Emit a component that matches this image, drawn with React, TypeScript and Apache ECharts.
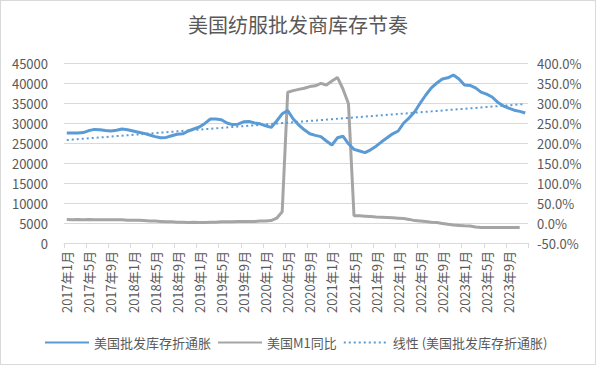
import React, { useEffect, useRef } from "react";
import * as echarts from "echarts";

const TITLE = "美国纺服批发商库存节奏";
const SERIES_NAMES = ["美国批发库存折通胀", "美国M1同比", "线性 (美国批发库存折通胀)"];

const YEARS = [2017, 2018, 2019, 2020, 2021, 2022, 2023];
const MONTHS = [1, 2, 3, 4, 5, 6, 7, 8, 9, 10, 11, 12];
const categories: string[] = [];
YEARS.forEach((y) => MONTHS.forEach((m) => categories.push(`${y}年${m}月`)));

// 美国批发库存折通胀 (left axis)
const inventory = [
  27500, 27500, 27500, 27600, 28100, 28400, 28300, 28100, 28000, 28200, 28500, 28300,
  28000, 27700, 27400, 27000, 26600, 26300, 26400, 26800, 27200, 27300, 28000, 28500,
  29000, 29900, 31000, 31000, 30800, 30000, 29600, 29700, 30300, 30400, 30000, 29800,
  29300, 28900, 30500, 32300, 33100, 31000, 29500, 28300, 27300, 26900, 26600, 25500,
  24500, 26300, 26700, 24800, 23400, 23000, 22600, 23300, 24200, 25300, 26300, 27300,
  28000, 30000, 31300, 32800, 35000, 37000, 38800, 40000, 41000, 41300, 42000, 41000,
  39500, 39400, 38800, 37700, 37200, 36500, 35200, 34300, 33700, 33200, 32900, 32500,
];

// 美国M1同比 (%) (right axis)
const m1Yoy: (number | null)[] = [
  9, 8, 9, 8, 9, 8, 8, 8, 8, 8, 8, 7,
  7, 7, 6, 5, 5, 4, 3, 3, 2, 2, 1, 2,
  1, 1, 2, 2, 3, 3, 3, 4, 4, 4, 4, 5,
  5, 6, 12, 28, 327, 331, 334, 337, 341, 343, 349, 345,
  355, 364, 335, 298, 18, 18, 17, 16, 15, 14.5, 14, 13,
  12, 11, 9, 6, 5, 3.5, 2, 1, -1, -3, -5, -6,
  -7, -7.5, -10, -11, -11, -11, -11, -11, -11, -11, -11, null,
];

const LEFT_MIN = 0, LEFT_MAX = 45000, LEFT_STEP = 5000;
const RIGHT_MIN = -50, RIGHT_MAX = 400, RIGHT_STEP = 50;

function linearTrend(vals: number[]): number[] {
  const n = vals.length;
  let sx = 0, sy = 0, sxx = 0, sxy = 0;
  vals.forEach((v, i) => {
    const x = i + 1;
    sx += x; sy += v; sxx += x * x; sxy += x * v;
  });
  const b = (n * sxy - sx * sy) / (n * sxx - sx * sx);
  const a = (sy - b * sx) / n;
  return vals.map((_, i) => +(a + b * (i + 1)).toFixed(1));
}

const FONT = "'Noto Sans CJK SC', 'Noto Sans', sans-serif";
const TXT = "#595959";

export default function App() {
  const ref = useRef<HTMLDivElement>(null);
  useEffect(() => {
    document.body.style.margin = "0";
    const chart = echarts.init(ref.current!, undefined, { renderer: "svg" });
    const trend = linearTrend(inventory);
    chart.setOption({
      animation: false,
      backgroundColor: "#ffffff",
      textStyle: { fontFamily: FONT, color: TXT },
      title: {
        text: TITLE,
        left: "center",
        top: 8,
        textStyle: { fontFamily: FONT, fontSize: 20, fontWeight: "normal", color: TXT },
      },
      grid: { left: 63, right: 67, top: 62, bottom: 121, containLabel: false },
      legend: {
        left: 38,
        top: 330,
        itemWidth: 44,
        itemHeight: 14,
        itemGap: 6,
        itemStyle: { opacity: 0 },
        textStyle: { fontFamily: FONT, fontSize: 13, color: TXT },
        data: SERIES_NAMES,
      },
      xAxis: {
        type: "category",
        data: categories,
        boundaryGap: true,
        axisLine: { lineStyle: { color: "#d9d9d9", width: 1 } },
        axisTick: { show: true, interval: 3, length: 5, lineStyle: { color: "#d9d9d9" } },
        axisLabel: {
          interval: 3,
          rotate: 90,
          fontFamily: FONT,
          fontSize: 13,
          color: TXT,
          margin: 8,
        },
      },
      yAxis: [
        {
          type: "value",
          min: LEFT_MIN,
          max: LEFT_MAX,
          interval: LEFT_STEP,
          axisLine: { show: false },
          axisTick: { show: false },
          splitLine: { lineStyle: { color: "#d9d9d9", width: 1 } },
          axisLabel: {
            fontFamily: FONT,
            fontSize: 13,
            color: TXT,
            margin: 16,
            formatter: (v: number) => String(v),
          },
        },
        {
          type: "value",
          min: RIGHT_MIN,
          max: RIGHT_MAX,
          interval: RIGHT_STEP,
          axisLine: { show: false },
          axisTick: { show: false },
          splitLine: { show: false },
          axisLabel: {
            fontFamily: FONT,
            fontSize: 13,
            color: TXT,
            margin: 9,
            formatter: (v: number) => v.toFixed(1) + "%",
          },
        },
      ],
      series: [
        {
          name: SERIES_NAMES[0],
          type: "line",
          yAxisIndex: 0,
          data: inventory,
          symbol: "none",
          lineStyle: { color: "#5B9BD5", width: 3 },
          itemStyle: { color: "#5B9BD5" },
          z: 3,
        },
        {
          name: SERIES_NAMES[1],
          type: "line",
          yAxisIndex: 1,
          data: m1Yoy,
          symbol: "none",
          lineStyle: { color: "#A5A5A5", width: 3 },
          itemStyle: { color: "#A5A5A5" },
          z: 2,
        },
        {
          name: SERIES_NAMES[2],
          type: "line",
          yAxisIndex: 0,
          data: trend,
          symbol: "none",
          lineStyle: { color: "#5B9BD5", width: 2, type: [2, 3] },
          itemStyle: { color: "#5B9BD5" },
          z: 4,
        },
      ],
    });
    return () => chart.dispose();
  }, []);
  return (
    <div
      style={{
        position: "fixed",
        left: 0,
        top: 0,
        width: 596,
        height: 365,
        boxSizing: "border-box",
        border: "1px solid #d9d9d9",
        background: "#fff",
      }}
    >
      <div ref={ref} style={{ width: 594, height: 363 }} />
    </div>
  );
}
